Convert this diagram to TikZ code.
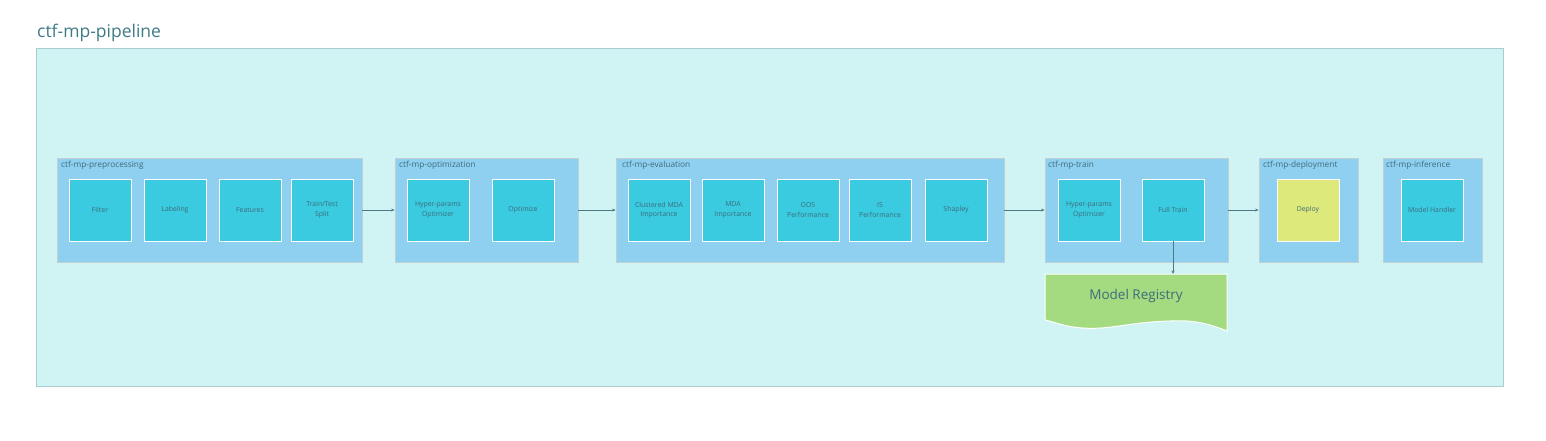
\documentclass[tikz,border=0pt]{standalone}
\usepackage{fontspec}
\setmainfont{Open Sans}
\usetikzlibrary{arrows.meta}
\definecolor{outerfill}{HTML}{D0F4F4}
\definecolor{outerline}{HTML}{A9CDD0}
\definecolor{groupfill}{HTML}{8FD0F1}
\definecolor{groupline}{HTML}{BFCFD2}
\definecolor{boxfill}{HTML}{3ACBE0}
\definecolor{deployfill}{HTML}{DDE97A}
\definecolor{regfill}{HTML}{A4DB80}
\definecolor{txt}{HTML}{3D6C7A}
\definecolor{titletxt}{HTML}{3E7B86}
\definecolor{arrowcol}{HTML}{4B7A86}
\tikzset{
  grp/.style={draw=groupline, line width=0.8pt, fill=groupfill, minimum height=104pt, inner sep=0pt},
  stepbox/.style={draw=white, line width=1pt, fill=boxfill},
  grplabel/.style={anchor=north west, inner sep=0pt, font=\fontsize{8.3}{9}\selectfont, text=txt},
  boxlabel/.style={align=center, inner sep=0pt, font=\fontsize{6.9}{9.5}\selectfont, text=txt},
  conn/.style={draw=arrowcol, line width=0.9pt, -{Stealth[length=3.5pt,width=3pt]}}
}
\newcommand{\mybox}[3]{%
  \path[stepbox] (#2,179) rectangle (#2+62,241);
  \node[boxlabel] (#1) at (#2+31,210) {#3};}
\begin{document}
\begin{tikzpicture}[x=1pt,y=-1pt]
\useasboundingbox (0,0) rectangle (1546,440);
% title
\node[anchor=base west, inner sep=0pt, font=\fontsize{17.5}{19}\selectfont, text=titletxt] (title) at (37,37) {ctf-mp-pipeline};
% outer
\draw[draw=outerline, line width=0.8pt, fill=outerfill] (36,48) rectangle (1503,386);
% groups
\node[grp, minimum width=305pt] (pre) at (209.5,210) {};
\node[grp, minimum width=183pt] (opt) at (486.5,210) {};
\node[grp, minimum width=388pt] (eva) at (810,210) {};
\node[grp, minimum width=183pt] (trn) at (1136.5,210) {};
\node[grp, minimum width=99pt] (dep) at (1308.5,210) {};
\node[grp, minimum width=99pt] (inf) at (1432.5,210) {};
\node[grplabel] (lpre) at (61,161) {ctf-mp-preprocessing};
\node[grplabel] (lopt) at (399,161) {ctf-mp-optimization};
\node[grplabel] (leva) at (622,161) {ctf-mp-evaluation};
\node[grplabel] (ltrn) at (1048,161) {ctf-mp-train};
\node[grplabel] (ldep) at (1263,161) {ctf-mp-deployment};
\node[grplabel] (linf) at (1386,161) {ctf-mp-inference};
% boxes
\mybox{filter}{69}{Filter}
\mybox{label}{144}{Labeling}
\mybox{feat}{219}{Features}
\mybox{split}{291}{Train/Test\\Split}
\mybox{hopt}{407}{Hyper-params\\Optimizer}
\mybox{optz}{492}{Optimize}
\mybox{cmda}{628}{Clustered MDA\\Importance}
\mybox{mda}{702}{MDA\\Importance}
\mybox{oos}{777}{OOS\\Performance}
\mybox{is}{849}{IS\\Performance}
\mybox{shap}{925}{Shapley}
\mybox{thopt}{1058}{Hyper-params\\Optimizer}
\mybox{full}{1142}{Full Train}
\coordinate (fullbot) at (1173,241);
\path[stepbox, fill=deployfill] (1277,179) rectangle (1339,241);
\node[boxlabel] (deploy) at (1308,210) {Deploy};
\mybox{handler}{1401}{Model Handler}
% model registry
\path[draw=white, line width=1pt, fill=regfill] (1045,274) -- (1227,274) -- (1227,331)
  .. controls (1205,322) and (1190,320) .. (1170,321)
  .. controls (1130,322) and (1110,330) .. (1083,328)
  .. controls (1065,327) and (1055,322) .. (1045,320) -- cycle;
\coordinate (regtop) at (1173,274);
\node[inner sep=0pt, font=\fontsize{13.5}{15}\selectfont, text=txt] (reg) at (1136,296) {Model Registry};
% connectors
\draw[conn] (pre.east) -- (opt.west);
\draw[conn] (opt.east) -- (eva.west);
\draw[conn] (eva.east) -- (trn.west);
\draw[conn] (trn.east) -- (dep.west);
\draw[conn] (fullbot) -- (regtop);
\end{tikzpicture}
\end{document}
